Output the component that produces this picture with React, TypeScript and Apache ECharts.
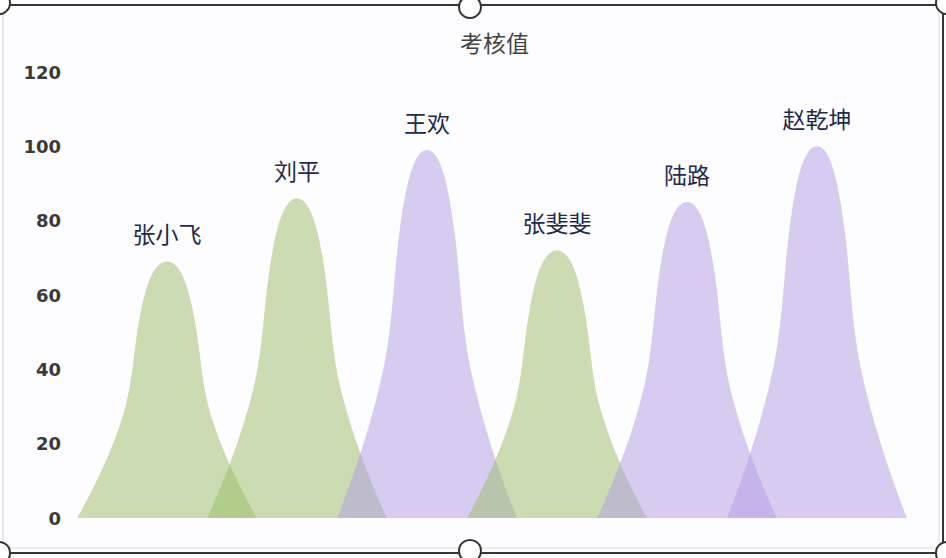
import { useEffect, useRef } from 'react';
import * as echarts from 'echarts';

// ─── Data ─────────────────────────────────────────────────────────────────────

const names = ['张小飞', '刘平', '王欢', '张斐斐', '陆路', '赵乾坤'];
const scores = [69, 86, 99, 72, 85, 100];
const fills = [
  'rgba(153,187,102,0.5)',
  'rgba(153,187,102,0.5)',
  'rgba(177,155,225,0.5)',
  'rgba(153,187,102,0.5)',
  'rgba(177,155,225,0.5)',
  'rgba(177,155,225,0.5)',
];
const yTicks = [0, 20, 40, 60, 80, 100, 120];

// bell-shaped peak, 10x10 box
const PEAK =
  'path://M0,10 C1.067,8.667 1.963,7.333 2.55,6 C3.093,4.767 3.129,3.533 3.45,2.3 ' +
  'C3.762,1.1 4.2,0 5,0 C5.8,0 6.238,1.1 6.55,2.3 C6.871,3.533 6.907,4.767 7.45,6 ' +
  'C8.037,7.333 8.933,8.667 10,10 Z';

// ─── Frame (editor selection box around the picture) ─────────────────────────

function frameGraphics(): any[] {
  const dark = { stroke: '#353535', lineWidth: 2 };
  const handles = [
    [-1, 3],
    [470, 7],
    [947, 3],
    [-1, 553],
    [470, 551],
    [947, 553],
  ];
  return [
    { type: 'line', shape: { x1: 3, y1: 5, x2: 3, y2: 550 }, style: { stroke: '#cfcfcf', lineWidth: 1 }, z: 10 },
    { type: 'line', shape: { x1: 5, y1: 548, x2: 940, y2: 548 }, style: { stroke: '#dedede', lineWidth: 1 }, z: 10 },
    { type: 'line', shape: { x1: 939, y1: 8, x2: 939, y2: 548 }, style: { stroke: '#dedede', lineWidth: 1 }, z: 10 },
    { type: 'line', shape: { x1: 0, y1: 5, x2: 946, y2: 5 }, style: dark, z: 11 },
    { type: 'line', shape: { x1: 0, y1: 553, x2: 946, y2: 553 }, style: dark, z: 11 },
    { type: 'line', shape: { x1: 943, y1: 5, x2: 943, y2: 553 }, style: dark, z: 11 },
    ...handles.map(([cx, cy]) => ({
      type: 'circle',
      shape: { cx, cy, r: 11 },
      style: { fill: '#ffffff', stroke: '#353535', lineWidth: 2 },
      z: 12,
    })),
  ];
}

// ─── Option ───────────────────────────────────────────────────────────────────

function buildOption(): echarts.EChartsOption {
  return {
    animation: false,
    backgroundColor: '#fdfcfe',
    title: {
      text: '考核值',
      left: 455,
      top: 25,
      textStyle: {
        fontFamily: 'Noto Sans CJK SC',
        fontSize: 23,
        fontWeight: 'normal',
        color: '#444444',
      },
    },
    grid: { left: 102, right: 64, top: 72, bottom: 40 },
    xAxis: {
      type: 'category',
      data: names,
      axisLine: { show: false },
      axisTick: { show: false },
      axisLabel: { show: false },
      splitLine: { show: false },
    },
    yAxis: {
      type: 'value',
      min: yTicks[0],
      max: yTicks[yTicks.length - 1],
      interval: yTicks[1] - yTicks[0],
      axisLine: { show: false },
      axisTick: { show: false },
      splitLine: { show: false },
      axisLabel: {
        margin: 41,
        fontFamily: 'DejaVu Sans',
        fontWeight: 'bold',
        fontSize: 18,
        color: '#3a3a3a',
      },
    },
    series: [
      {
        type: 'pictorialBar',
        symbol: PEAK,
        barCategoryGap: '-38%',
        data: scores.map((v, i) => ({ value: v, itemStyle: { color: fills[i] } })),
        label: {
          show: true,
          position: 'top',
          distance: 17,
          formatter: (p: any) => names[p.dataIndex],
          fontFamily: 'Noto Sans CJK SC',
          fontSize: 23,
          color: '#1e2b4f',
        },
      },
    ],
    graphic: frameGraphics(),
  };
}

// ─── App ──────────────────────────────────────────────────────────────────────

export default function App() {
  const ref = useRef<HTMLDivElement>(null);

  useEffect(() => {
    if (!ref.current) return;
    document.body.style.margin = '0';
    const chart = echarts.init(ref.current, null, { renderer: 'svg' });
    chart.setOption(buildOption());
    return () => chart.dispose();
  }, []);

  return (
    <div
      ref={ref}
      style={{ position: 'absolute', left: 0, top: 0, width: 946, height: 558 }}
    />
  );
}
